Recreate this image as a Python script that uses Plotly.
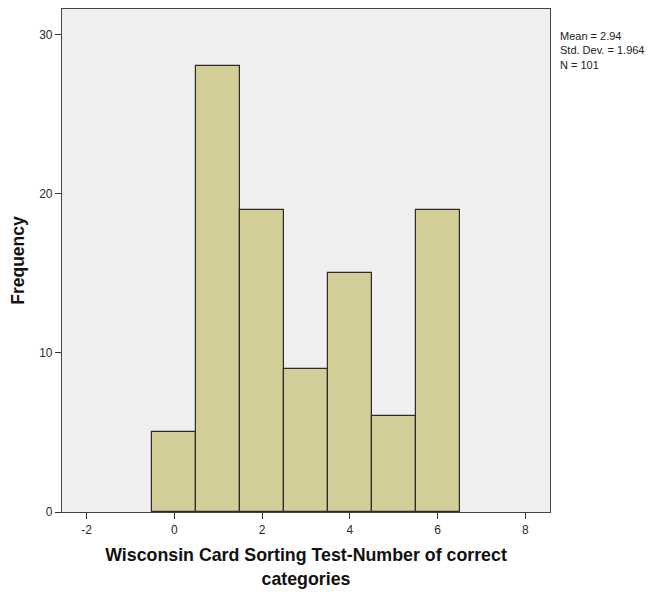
import plotly.graph_objects as go

# Number of correct categories (bin centres) and their frequencies
categories = [0, 1, 2, 3, 4, 5, 6]
frequencies = [5, 28, 19, 9, 15, 6, 19]

x_ticks = [-2, 0, 2, 4, 6, 8]
x_tick_labels = ["-2", "0", "2", "4", "6", "8"]
y_ticks = [0, 10, 20, 30]

n = sum(frequencies)
mean = sum(c * f for c, f in zip(categories, frequencies)) / n
var = sum(f * (c - mean) ** 2 for c, f in zip(categories, frequencies)) / (n - 1)
sd = var ** 0.5

fig = go.Figure()
fig.add_trace(go.Bar(
    x=categories,
    y=frequencies,
    width=1.0,
    marker=dict(color="#d3ce98", line=dict(color="#2b2b2b", width=1.2)),
    hoverinfo="x+y",
))

font_family = "Liberation Sans, Arial, sans-serif"

fig.update_layout(
    width=661,
    height=592,
    margin=dict(l=62, r=111, t=9, b=80),
    paper_bgcolor="white",
    plot_bgcolor="#efefef",
    showlegend=False,
    bargap=0,
    font=dict(family=font_family, size=12, color="#222"),
    xaxis=dict(
        range=[-2.56, 8.56],
        tickvals=x_ticks,
        ticktext=x_tick_labels,
        ticks="outside",
        ticklen=6,
        tickcolor="#333",
        showgrid=False,
        zeroline=False,
        showline=True,
        linecolor="#444",
        linewidth=1.2,
        mirror=True,
        automargin=False,
        tickfont=dict(size=12, color="#2a2a2a"),
        title=dict(
            text="<b>Wisconsin Card Sorting Test-Number of correct<br>categories</b>",
            font=dict(size=17.8, color="#111"),
            standoff=13,
        ),
    ),
    yaxis=dict(
        range=[0, 31.6],
        tickvals=y_ticks,
        ticks="outside",
        ticklen=6,
        tickcolor="#333",
        showgrid=False,
        zeroline=False,
        showline=True,
        linecolor="#444",
        linewidth=1.2,
        mirror=True,
        automargin=False,
        tickfont=dict(size=12, color="#2a2a2a"),
        title=dict(
            text="<b>Frequency</b>",
            font=dict(size=17.5, color="#111"),
            standoff=10,
        ),
    ),
)

fig.add_annotation(
    xref="paper", yref="paper",
    x=1.0, y=0.963,
    xshift=8,
    xanchor="left", yanchor="top",
    align="left",
    showarrow=False,
    text=f"Mean = {mean:.2f}<br>Std. Dev. = {sd:.3f}<br>N = {n}",
    font=dict(size=11, color="#222", family=font_family),
)

fig.write_html("out.html")
